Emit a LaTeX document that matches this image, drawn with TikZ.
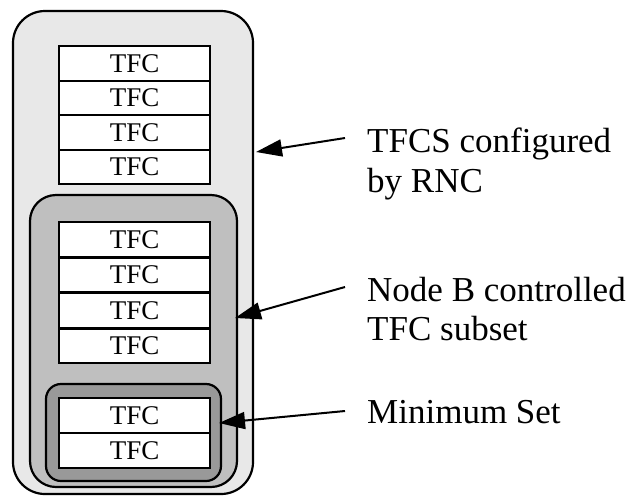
\documentclass[tikz,border=0pt]{standalone}
\usepackage{fontspec}
\setmainfont{Liberation Serif}
\usetikzlibrary{arrows.meta}
\begin{document}
\begin{tikzpicture}[x=1pt,y=-1pt,
  cell/.style={draw=black,line width=2.2pt,fill=white,minimum width=151pt,minimum height=34.5pt,inner sep=0pt,font=\fontsize{27}{29}\selectfont,anchor=north west},
  setbox/.style={draw=black,line width=2.2pt},
  lab/.style={font=\fontsize{35}{39.5}\selectfont,align=left,anchor=north west,inner sep=0pt},
  pointer/.style={line width=2pt,-{Triangle[length=26pt,width=17pt]}}]
\useasboundingbox (0,0) rectangle (628,496);
% outer set
\draw[setbox,fill=black!9,rounded corners=32pt] (13,11) rectangle (253,494);
\foreach \i/\y in {1/45,2/79.5,3/114,4/148.5}
  \node[cell] (a\i) at (58,\y) {TFC};
% middle set
\draw[setbox,fill=black!25,rounded corners=26pt] (30,195) rectangle (237,487);
\foreach \i/\y in {1/221,2/256.5,3/292,4/327.5}
  \node[cell] (b\i) at (58,\y) {TFC};
% inner set
\draw[setbox,fill=black!40,rounded corners=15pt] (46,384) rectangle (221,481);
\foreach \i/\y in {1/397,2/432}
  \node[cell] (c\i) at (58,\y) {TFC};
% labels
\node[lab] (t1) at (367,128) {TFCS configured\\by RNC};
\node[lab] (t2) at (367,277) {Node B controlled\\TFC subset};
\node[lab] (t3) at (367,400) {Minimum Set};
\coordinate (s1) at (345,138);
\coordinate (e1) at (256,152);
\coordinate (s2) at (345,287);
\coordinate (e2) at (235,318);
\coordinate (s3) at (345,411);
\coordinate (e3) at (219,423);
\draw[pointer] (s1) -- (e1);
\draw[pointer] (s2) -- (e2);
\draw[pointer] (s3) -- (e3);
\end{tikzpicture}
\end{document}
